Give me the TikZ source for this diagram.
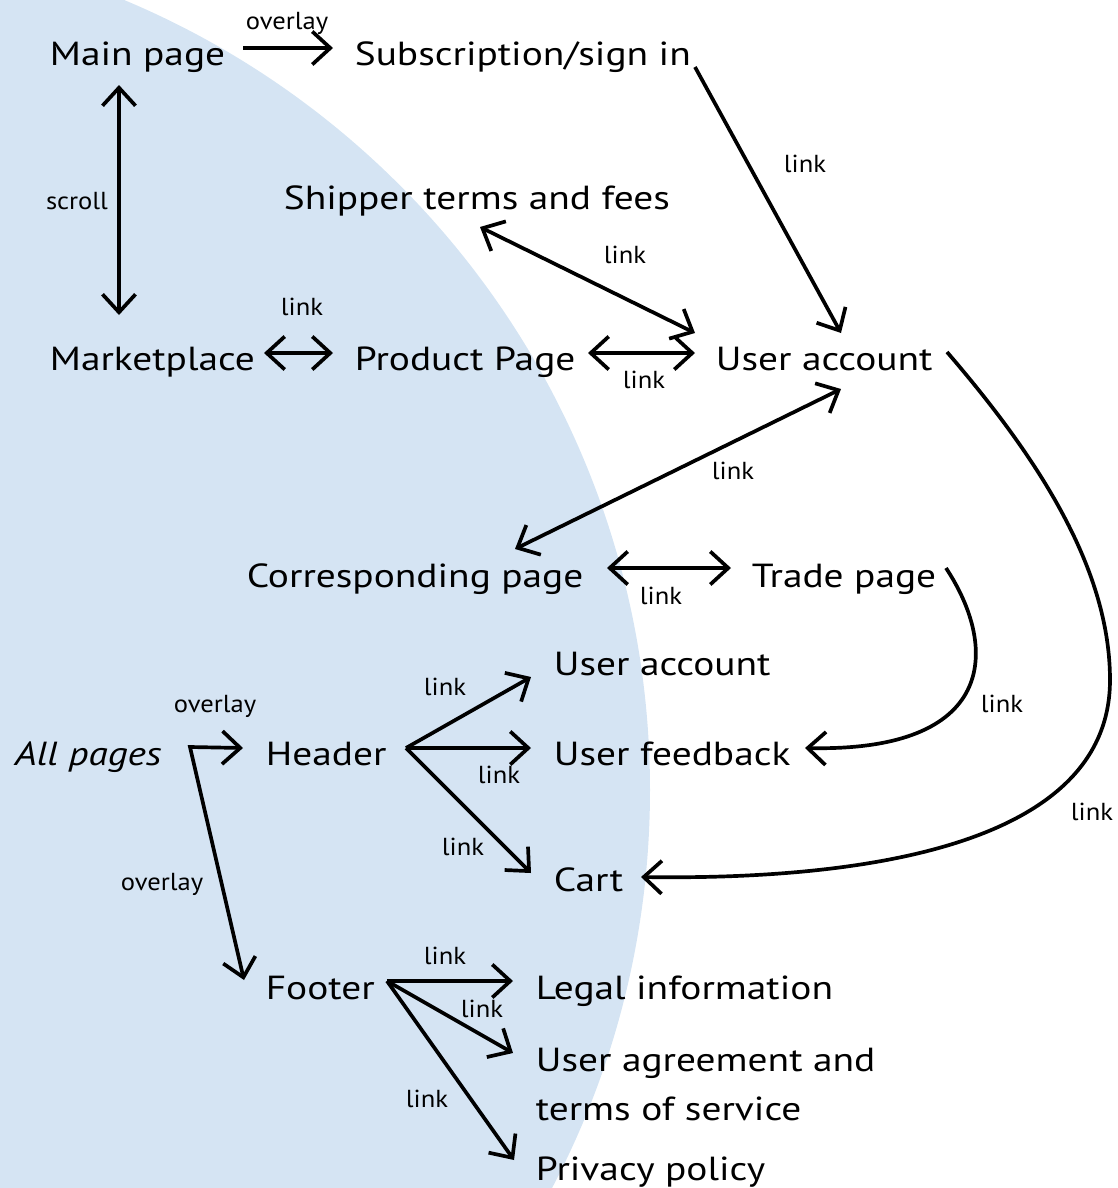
\documentclass[tikz,border=0pt]{standalone}
\usepackage{fontspec}
\setmainfont{PT Sans}[FakeStretch=1.18]
\newfontfamily\labelfont{PT Sans}[FakeStretch=1.08]
\usetikzlibrary{arrows.meta}
\definecolor{pagearea}{RGB}{213,228,243}

\begin{document}
\begin{tikzpicture}[x=0.02cm, y=-0.02cm, line width=2.1pt,
                    >={Straight Barb[length=0.36cm, width=0.66cm, line join=miter, line cap=butt]},
                    page/.style={anchor=base west, inner sep=0pt,
                                 font=\fontsize{19}{27.4}\selectfont},
                    lbl/.style={anchor=base, inner sep=0pt,
                                font=\labelfont\fontsize{14}{16}\selectfont}]
	\useasboundingbox (0,0) rectangle (1117,1188);
	% shaded area behind the left part
	\begin{scope}
		\clip (0,0) rectangle (1117,1188);
		\fill[pagearea] (-206,790) circle[radius=856];
	\end{scope}

	\node[page] (main)   at (48,65)    {Main page};
	\node[page] (sub)    at (353,65)   {Subscription/sign in};
	\node[page] (ship)   at (282,209)  {Shipper terms and fees};
	\node[page] (market) at (48,370)   {Marketplace};
	\node[page] (prod)   at (353,370)  {Product Page};
	\node[page] (acc)    at (714,370)  {User account};
	\node[page] (corr)   at (245,587)  {Corresponding page};
	\node[page] (trade)  at (750,587)  {Trade page};
	\node[page] (all)    at (13,765)   {\itshape All pages};
	\node[page] (head)   at (264,765)  {Header};
	\node[page] (hacc)   at (552,675)  {User account};
	\node[page] (feed)   at (552,765)  {User feedback};
	\node[page] (cart)   at (552,891)  {Cart};
	\node[page] (foot)   at (264,999)  {Footer};
	\node[page] (legal)  at (534,999)  {Legal information};
	\node[page, align=left] (terms) at (534,1120) {User agreement and\\terms of service};
	\node[page] (priv)   at (534,1180) {Privacy policy};

	% edge labels
	\node[lbl] (t1)  at (287,29)   {overlay};
	\node[lbl] (t2)  at (77,209)   {scroll};
	\node[lbl] (t3)  at (302,315)  {link};
	\node[lbl] (t4)  at (625,263)  {link};
	\node[lbl] (t5)  at (644,388)  {link};
	\node[lbl] (t6)  at (805,172)  {link};
	\node[lbl] (t7)  at (733,479)  {link};
	\node[lbl] (t8)  at (661,604)  {link};
	\node[lbl] (t9)  at (1002,712) {link};
	\node[lbl] (t10) at (1092,820) {link};
	\node[lbl] (t11) at (215,712)  {overlay};
	\node[lbl] (t12) at (162,890)  {overlay};
	\node[lbl] (t13) at (445,695)  {link};
	\node[lbl] (t14) at (499,783)  {link};
	\node[lbl] (t15) at (463,855)  {link};
	\node[lbl] (t16) at (445,964)  {link};
	\node[lbl] (t17) at (482,1017) {link};
	\node[lbl] (t18) at (427,1107) {link};

	\draw[->]  ([shift={(195,-17)}]main.base west) -- ([shift={(-20,-17)}]sub.base west);
	\draw[<->] ([shift={(71,20)}]main.base west) -- ([shift={(71,-55)}]market.base west);
	\draw[<->] ([shift={(216,-17)}]market.base west) -- ([shift={(-20,-17)}]prod.base west);
	\draw[<->] ([shift={(235,-17)}]prod.base west) -- ([shift={(-19,-17)}]acc.base west);
	\draw[<->] ([shift={(198,18)}]ship.base west) -- ([shift={(-19,-37)}]acc.base west);
	\draw[->]  ([shift={(342,2)}]sub.base west) -- ([shift={(127,-37)}]acc.base west);
	\draw[<->] ([shift={(270,-38)}]corr.base west) -- ([shift={(127,19)}]acc.base west);
	\draw[<->] ([shift={(362,-19)}]corr.base west) -- ([shift={(-19,-19)}]trade.base west);
	\draw[->]  ([shift={(196,-19)}]trade.base west)
	           .. controls (1000,650) and (995,752) .. ([shift={(253,-17)}]feed.base west);
	\draw[->]  ([shift={(233,-18)}]acc.base west)
	           .. controls (1040,460) and (1110,570) .. (1110,680)
	           .. controls (1110,850) and (850,880) .. ([shift={(89,-14)}]cart.base west);

	% overlays reached from every page
	\draw[<->] ([shift={(-21,-17)}]head.base west) -- ([shift={(177,-18)}]all.base west)
	           -- ([shift={(-20,-19)}]foot.base west);

	\coordinate (hfan) at ([shift={(142,-17)}]head.base west);
	\draw[->] (hfan) -- ([shift={(-21,2)}]hacc.base west);
	\draw[->] (hfan) -- ([shift={(-21,-17)}]feed.base west);
	\draw[->] (hfan) -- ([shift={(-21,-18)}]cart.base west);

	\coordinate (ffan) at ([shift={(123,-18)}]foot.base west);
	\draw[->] (ffan) -- ([shift={(-21,-18)}]legal.base west);
	\draw[->] (ffan) -- ([shift={(-21,-67)}]terms.base west);
	\draw[->] (ffan) -- ([shift={(-20,-20)}]priv.base west);
\end{tikzpicture}
\end{document}
